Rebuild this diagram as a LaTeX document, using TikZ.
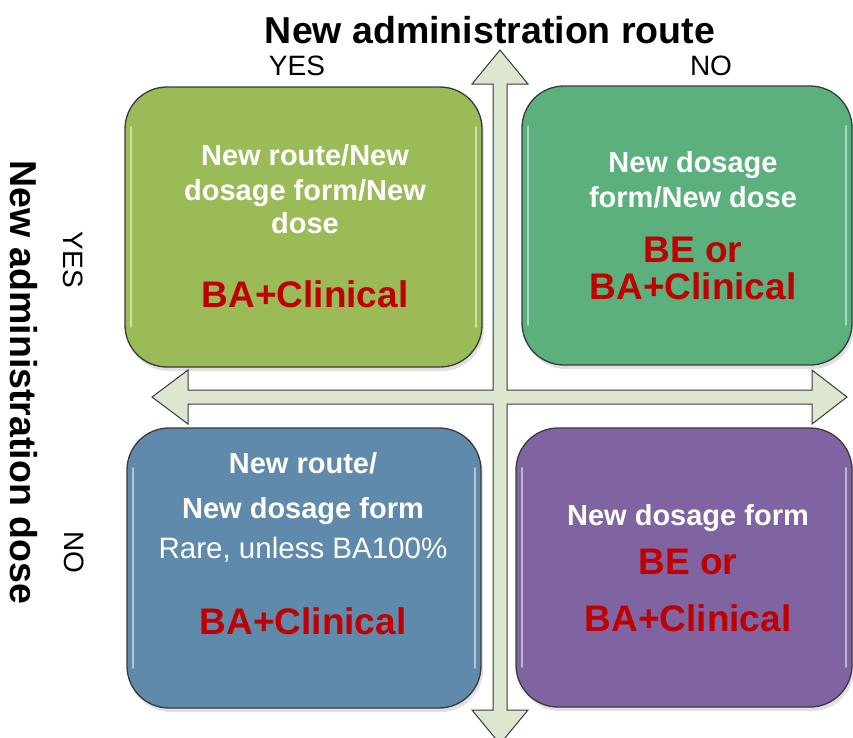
\documentclass[tikz,border=0pt]{standalone}
\usepackage{fontspec}
\setmainfont{Liberation Sans}
\begin{document}
\definecolor{qolive}{HTML}{9BBB59}
\definecolor{qgreen}{HTML}{5BB07E}
\definecolor{qblue}{HTML}{5F8AAB}
\definecolor{qpurple}{HTML}{8064A2}
\definecolor{qred}{HTML}{C00000}
\definecolor{qarrow}{HTML}{DDE6CF}
\definecolor{qedge}{HTML}{3A3A3A}
\begin{tikzpicture}[x=1pt,y=-1pt,
  quadrant/.style={draw=qedge, line width=1.3pt, rounded corners=42pt,
    inner sep=0pt},
  shine/.style={draw=white, draw opacity=0.5, line width=1.6pt, line cap=round},
  whitebold/.style={anchor=base, text=white, font=\fontsize{29}{33}\selectfont\bfseries, inner sep=0pt},
  whiteplain/.style={anchor=base, text=white, font=\fontsize{29.5}{33}\selectfont, inner sep=0pt},
  verdict/.style={anchor=base, text=qred, font=\fontsize{37}{42}\selectfont\bfseries, inner sep=0pt},
  axislabel/.style={font=\fontsize{37.5}{42}\selectfont\bfseries, inner sep=0pt},
  answer/.style={font=\fontsize{28}{32}\selectfont, inner sep=0pt}]
\useasboundingbox (0,0) rectangle (853,737);
\clip (0,0) rectangle (853,737);

% four-headed cross arrow
\filldraw[fill=qarrow, draw=qedge, line width=1pt, line join=miter]
  (500,50) -- (528,84) -- (507,84) -- (507,390) -- (812,390) -- (812,370)
  -- (847,397) -- (812,424) -- (812,404) -- (507,404) -- (507,710)
  -- (528,710) -- (500,744) -- (472,710) -- (493,710) -- (493,404)
  -- (188,404) -- (188,424) -- (152,397) -- (188,370) -- (188,390)
  -- (493,390) -- (493,84) -- (472,84) -- cycle;

% soft shadows under the quadrants
\foreach \l/\t/\r/\b in {125/87/482/367, 522/86/852/365, 127/428/481/708, 516/428/852/707}
  \fill[black, opacity=0.12, rounded corners=42pt] (\l+2,\t+4) rectangle (\r+2,\b+4);

% quadrant boxes
\draw[quadrant, fill=qolive]  (125,87) rectangle (482,367);
\draw[quadrant, fill=qgreen]  (522,86) rectangle (852,365);
\draw[quadrant, fill=qblue]   (127,428) rectangle (481,708);
\draw[quadrant, fill=qpurple] (516,428) rectangle (852,707);

% glossy edge highlights
\foreach \l/\t/\r/\b in {125/87/482/367, 522/86/852/365, 127/428/481/708, 516/428/852/707} {
  \draw[shine] (\l+6,\t+40) -- (\l+6,\b-40);
  \draw[shine] (\r-6,\t+40) -- (\r-6,\b-40);
}

% axis titles
\node[axislabel] (toptitle) at (490,30) {New administration route};
\node[answer, anchor=base] (topyes) at (297,75) {YES};
\node[answer, anchor=base] (topno) at (711,75) {NO};
\node[axislabel, rotate=-90] (sidetitle) at (24,382) {New administration dose};
\node[answer, rotate=-90] (sideyes) at (73,260) {YES};
\node[answer, rotate=-90] (sideno) at (74,552) {NO};

% top-left quadrant
\node[whitebold] (tla) at (305,165) {New route/New};
\node[whitebold] (tlb) at (305,200) {dosage form/New};
\node[whitebold] (tlc) at (305,233) {dose};
\node[verdict]   (tld) at (305,307) {BA+Clinical};

% top-right quadrant
\node[whitebold] (tra) at (693,172) {New dosage};
\node[whitebold] (trb) at (693,207) {form/New dose};
\node[verdict]   (trc) at (693,262) {BE or};
\node[verdict]   (trd) at (693,299) {BA+Clinical};

% bottom-left quadrant
\node[whitebold]  (bla) at (303,473) {New route/};
\node[whitebold]  (blb) at (303,518) {New dosage form};
\node[whiteplain] (blc) at (303,558) {Rare, unless BA100\%};
\node[verdict]    (bld) at (303,634) {BA+Clinical};

% bottom-right quadrant
\node[whitebold] (bra) at (688,525) {New dosage form};
\node[verdict]   (brb) at (688,574) {BE or};
\node[verdict]   (brc) at (688,631) {BA+Clinical};
\end{tikzpicture}
\end{document}
